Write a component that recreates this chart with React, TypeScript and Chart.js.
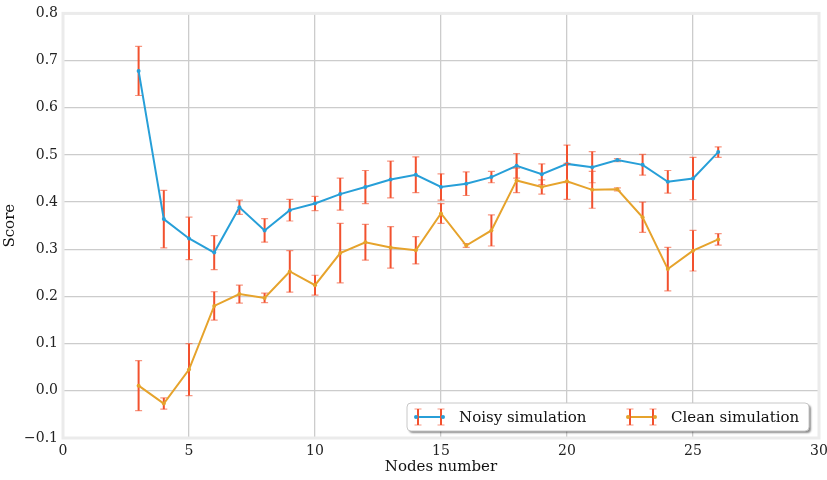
import { Chart, registerables } from "chart.js";
import type { ChartConfiguration, Plugin } from "chart.js";
import { useEffect, useRef } from "react";

Chart.register(...registerables);

const nodes = [3, 4, 5, 6, 7, 8, 9, 10, 11, 12, 13, 14, 15, 16, 17, 18, 19, 20, 21, 22, 23, 24, 25, 26];

const noisy = [
  0.678, 0.364, 0.323, 0.293, 0.389, 0.34, 0.383, 0.397, 0.417, 0.432, 0.448, 0.458,
  0.432, 0.439, 0.453, 0.477, 0.459, 0.481, 0.474, 0.489, 0.479, 0.443, 0.45, 0.506,
];
const noisyErr = [
  0.052, 0.061, 0.045, 0.036, 0.015, 0.025, 0.023, 0.015, 0.034, 0.035, 0.039, 0.038,
  0.028, 0.025, 0.012, 0.026, 0.022, 0.04, 0.033, 0.003, 0.022, 0.024, 0.045, 0.011,
];

const clean = [
  0.011, -0.027, 0.045, 0.18, 0.205, 0.197, 0.253, 0.224, 0.292, 0.315, 0.304, 0.298,
  0.376, 0.308, 0.34, 0.446, 0.432, 0.444, 0.426, 0.427, 0.368, 0.258, 0.297, 0.321,
];
const cleanErr = [
  0.053, 0.012, 0.055, 0.03, 0.019, 0.01, 0.044, 0.021, 0.063, 0.038, 0.044, 0.029,
  0.021, 0.004, 0.033, 0.026, 0.015, 0.038, 0.039, 0.003, 0.032, 0.046, 0.043, 0.012,
];

const seriesLabels = ["Noisy simulation", "Clean simulation"];

const BLUE = "#279fd8";
const ORANGE = "#e6a32c";
const RED = "#f2512e";
const serif = "'DejaVu Serif', serif";

const drawErrorGlyph = (ctx: CanvasRenderingContext2D, x: number, top: number, bot: number) => {
  ctx.strokeStyle = RED;
  ctx.lineWidth = 2;
  ctx.beginPath();
  ctx.moveTo(x, top);
  ctx.lineTo(x, bot);
  ctx.stroke();
  ctx.strokeStyle = "rgba(242, 81, 46, 0.6)";
  ctx.lineWidth = 1.2;
  ctx.beginPath();
  ctx.moveTo(x - 3.5, top);
  ctx.lineTo(x + 3.5, top);
  ctx.moveTo(x - 3.5, bot);
  ctx.lineTo(x + 3.5, bot);
  ctx.stroke();
};

// error bars go under each line, like matplotlib does
const errorBars: Plugin<"line"> = {
  id: "errorBars",
  beforeDatasetDraw(chart, args) {
    const vals = args.index === 0 ? noisy : clean;
    const errs = args.index === 0 ? noisyErr : cleanErr;
    const { ctx, scales } = chart;
    ctx.save();
    nodes.forEach((n, i) => {
      const px = scales.x.getPixelForValue(n);
      const top = scales.y.getPixelForValue(vals[i] + errs[i]);
      const bot = scales.y.getPixelForValue(vals[i] - errs[i]);
      drawErrorGlyph(ctx, px, top, bot);
    });
    ctx.restore();
  },
};

const frame: Plugin<"line"> = {
  id: "frame",
  beforeDatasetsDraw(chart) {
    const { ctx, chartArea } = chart;
    ctx.save();
    ctx.strokeStyle = "#ebebeb";
    ctx.lineWidth = 3;
    ctx.strokeRect(chartArea.left, chartArea.top, chartArea.right - chartArea.left, chartArea.bottom - chartArea.top);
    ctx.restore();
  },
};

const boxLegend: Plugin<"line"> = {
  id: "boxLegend",
  afterDraw(chart) {
    const { ctx, chartArea } = chart;
    const right = chartArea.right - 10;
    const bottom = chartArea.bottom - 7;
    const w = 402;
    const h = 28;
    const left = right - w;
    const top = bottom - h;
    ctx.save();
    ctx.shadowColor = "rgba(0, 0, 0, 0.45)";
    ctx.shadowOffsetX = 2;
    ctx.shadowOffsetY = 2;
    ctx.shadowBlur = 2;
    ctx.fillStyle = "#ffffff";
    ctx.beginPath();
    ctx.roundRect(left, top, w, h, 4);
    ctx.fill();
    ctx.shadowColor = "transparent";
    ctx.strokeStyle = "#c8c8c8";
    ctx.lineWidth = 1;
    ctx.stroke();

    const cy = top + h / 2;
    const items = [
      { x: left + 9, color: BLUE, text: seriesLabels[0] },
      { x: left + 221, color: ORANGE, text: seriesLabels[1] },
    ];
    ctx.font = `15px ${serif}`;
    ctx.textBaseline = "middle";
    items.forEach((it) => {
      ctx.strokeStyle = it.color;
      ctx.lineWidth = 2;
      ctx.beginPath();
      ctx.moveTo(it.x, cy);
      ctx.lineTo(it.x + 27, cy);
      ctx.stroke();
      drawErrorGlyph(ctx, it.x + 2, cy - 8, cy + 8);
      drawErrorGlyph(ctx, it.x + 25, cy - 8, cy + 8);
      ctx.fillStyle = it.color;
      [it.x, it.x + 27].forEach((px) => {
        ctx.beginPath();
        ctx.arc(px, cy, 2, 0, Math.PI * 2);
        ctx.fill();
      });
      ctx.fillStyle = "#111111";
      ctx.fillText(it.text, it.x + 43, cy + 1);
    });
    ctx.restore();
  },
};

const App = () => {
  const canvasRef = useRef<HTMLCanvasElement>(null);

  useEffect(() => {
    document.body.style.margin = "0";
    const ctx = canvasRef.current?.getContext("2d");
    if (!ctx) {
      return;
    }

    const tickFont = { family: serif, size: 14 };
    const titleFont = { family: serif, size: 15 };

    const config: ChartConfiguration<"line"> = {
      type: "line",
      data: {
        datasets: [
          {
            label: seriesLabels[0],
            data: nodes.map((n, i) => ({ x: n, y: noisy[i] })),
            borderColor: BLUE,
            backgroundColor: BLUE,
            borderWidth: 2,
            pointRadius: 2,
            pointBorderWidth: 0,
            order: 1,
          },
          {
            label: seriesLabels[1],
            data: nodes.map((n, i) => ({ x: n, y: clean[i] })),
            borderColor: ORANGE,
            backgroundColor: ORANGE,
            borderWidth: 2,
            pointRadius: 2,
            pointBorderWidth: 0,
            order: 0,
          },
        ],
      },
      options: {
        animation: false,
        responsive: false,
        layout: { padding: { top: 9.5, right: 8, left: 0, bottom: 0 } },
        plugins: {
          legend: { display: false },
          tooltip: { enabled: false },
        },
        scales: {
          x: {
            type: "linear",
            min: 0,
            max: 30,
            afterFit: (scale) => {
              scale.height = 42;
              scale.paddingLeft = 0;
              scale.paddingRight = 0;
            },
            border: { display: false },
            grid: { color: "#cccccc", lineWidth: 1.3, drawTicks: false },
            ticks: { stepSize: 5, padding: 5, color: "#222222", font: tickFont },
            title: {
              display: true,
              text: "Nodes number",
              color: "#111111",
              font: titleFont,
              padding: { top: 0, bottom: 4 },
            },
          },
          y: {
            min: -0.1,
            max: 0.8,
            afterFit: (scale) => {
              scale.width = 63;
            },
            border: { display: false },
            grid: { color: "#cccccc", lineWidth: 1.3, drawTicks: false },
            ticks: {
              stepSize: 0.1,
              padding: 5,
              color: "#222222",
              font: tickFont,
              callback: (v) => {
                const n = Number(v);
                return n < 0 ? "\u2212" + Math.abs(n).toFixed(1) : n.toFixed(1);
              },
            },
            title: {
              display: true,
              text: "Score",
              color: "#111111",
              font: titleFont,
              padding: { top: 1, bottom: 0 },
            },
          },
        },
      },
      plugins: [frame, errorBars, boxLegend],
    };

    const chart = new Chart(ctx, config);

    return () => {
      chart.destroy();
    };
  }, []);

  return <canvas ref={canvasRef} width={827} height={480} />;
};

export default App;
